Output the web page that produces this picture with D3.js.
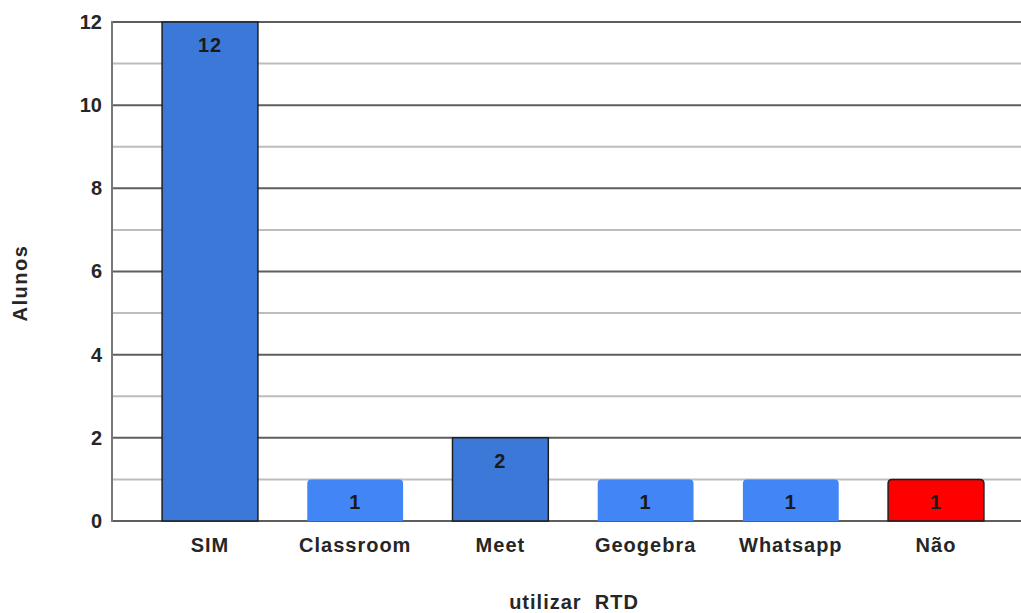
<!DOCTYPE html>
<html>
<head>
<meta charset="utf-8">
<script src="https://cdn.jsdelivr.net/npm/d3@7"></script>
<style>
  html, body { margin: 0; padding: 0; background: #fff; }
  svg { display: block; font-family: "Liberation Sans", Arial, sans-serif; }
</style>
</head>
<body>
<svg id="chart" width="1021" height="613"></svg>
<script>
// Students using each digital resource
const categories = ["SIM", "Classroom", "Meet", "Geogebra", "Whatsapp", "Não"];
const values = [12, 1, 2, 1, 1, 1];
const barColors = ["#3c78d8", "#4285f4", "#3c78d8", "#4285f4", "#4285f4", "#ff0000"];
const outlined = [true, false, true, false, false, true];
const yTicks = [0, 2, 4, 6, 8, 10, 12];
const yMinor = [1, 3, 5, 7, 9, 11];
const yTitle = "Alunos";
const xTitle = "utilizar  RTD";

const svg = d3.select("#chart");
const plotLeft = 112, plotRight = 1021, plotTop = 22, plotBottom = 521;
const font = "\"Liberation Sans\", Arial, sans-serif";
const ink = "#262626";

const x = d3.scaleBand().domain(categories).range([137.4, 1008.6]).paddingInner(0.34).paddingOuter(0.17);
const y = d3.scaleLinear().domain([0, 12]).range([plotBottom, plotTop]);

// minor gridlines
svg.append("g").selectAll("line").data(yMinor).join("line")
  .attr("x1", plotLeft).attr("x2", plotRight)
  .attr("y1", d => y(d)).attr("y2", d => y(d))
  .attr("stroke", "#bdbdbd").attr("stroke-width", 2);

// major gridlines
svg.append("g").selectAll("line").data(yTicks).join("line")
  .attr("x1", plotLeft).attr("x2", plotRight)
  .attr("y1", d => y(d)).attr("y2", d => y(d))
  .attr("stroke", "#5e5e5e").attr("stroke-width", 2);

// left axis line
svg.append("line").attr("x1", plotLeft).attr("x2", plotLeft).attr("y1", plotTop - 1).attr("y2", plotBottom + 1)
  .attr("stroke", "#777").attr("stroke-width", 2);

// y tick labels
const yAxis = d3.axisLeft(y).tickValues(yTicks).tickSize(0).tickPadding(10);
const ya = svg.append("g").attr("transform", `translate(${plotLeft},0)`).call(yAxis);
ya.select(".domain").remove();
ya.selectAll("text").attr("font-size", 20).attr("font-weight", "bold").attr("fill", ink)
  .attr("font-family", font);

// bars
const data = categories.map((c, i) => ({ c, v: values[i], color: barColors[i], outline: outlined[i] }));
svg.append("g").selectAll("path").data(data).join("path")
  .attr("d", d => {
    const x0 = x(d.c), w = x.bandwidth(), y0 = y(d.v), y1 = y(0);
    const r = d.outline && d.v > 1 ? 0 : 4;
    return `M${x0},${y1} L${x0},${y0 + r} Q${x0},${y0} ${x0 + r},${y0} L${x0 + w - r},${y0} Q${x0 + w},${y0} ${x0 + w},${y0 + r} L${x0 + w},${y1} Z`;
  })
  .attr("fill", d => d.color)
  .attr("stroke", d => d.outline ? "#1f1f1f" : "none")
  .attr("stroke-width", 1.5);

// value labels
svg.append("g").selectAll("text").data(data).join("text")
  .attr("x", d => x(d.c) + x.bandwidth() / 2)
  .attr("y", d => y(d.v) + 30)
  .attr("text-anchor", "middle")
  .attr("font-size", 20).attr("font-weight", "bold").attr("fill", "#1a1a1a")
  .attr("letter-spacing", 1)
  .text(d => d.v);

// x category labels
const xAxis = d3.axisBottom(x).tickSize(0).tickPadding(17);
const xa = svg.append("g").attr("transform", `translate(0,${plotBottom})`).call(xAxis);
xa.select(".domain").remove();
xa.selectAll("text").attr("font-size", 20).attr("font-weight", "bold").attr("fill", ink)
  .attr("font-family", font).attr("letter-spacing", 1);

// axis titles
svg.append("text").attr("transform", "translate(27,283) rotate(-90)")
  .attr("text-anchor", "middle").attr("font-size", 20).attr("font-weight", "bold").attr("fill", ink)
  .attr("letter-spacing", 1.5)
  .text(yTitle);
svg.append("text").attr("x", 574).attr("y", 609)
  .attr("text-anchor", "middle").attr("font-size", 20).attr("font-weight", "bold").attr("fill", ink)
  .attr("letter-spacing", 1)
  .style("white-space", "pre")
  .text(xTitle);
</script>
</body>
</html>
